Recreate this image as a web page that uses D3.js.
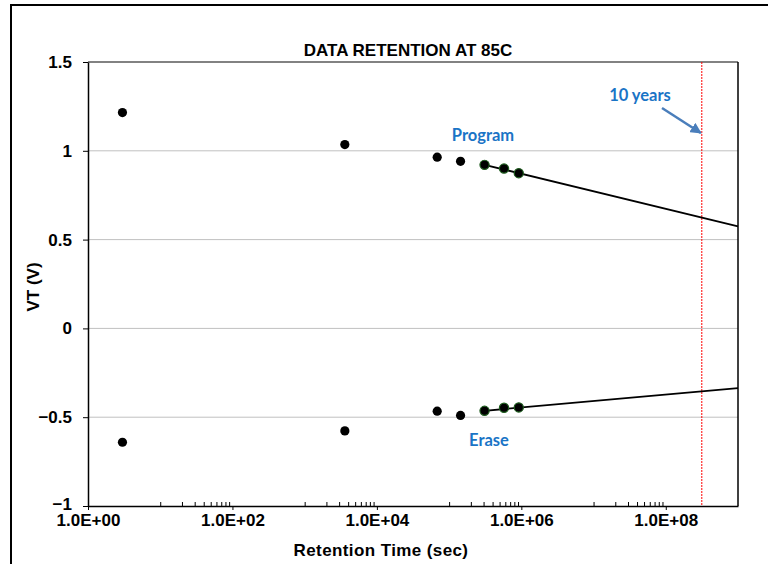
<!DOCTYPE html>
<html>
<head>
<meta charset="utf-8">
<script src="https://cdn.jsdelivr.net/npm/d3@7"></script>
<style>
  body { margin: 0; background: #fff; }
  svg { display: block; }
  .tick text { font-family: "Liberation Sans", Arial, sans-serif; font-weight: 700; font-size: 17px; fill: #000; }
</style>
</head>
<body>
<div id="chart"></div>
<script>
// Retention data (seconds, volts)
const retentionTimes = [3, 3600, 68400, 144000, 309600, 576000, 921600];
const programVT = [1.215, 1.035, 0.964, 0.941, 0.921, 0.900, 0.874];
const eraseVT = [-0.641, -0.577, -0.466, -0.490, -0.464, -0.447, -0.445];
const fitStart = 4; // last three points are used for the trend lines

// Trend line end points
const programTrend = [[309600, 0.921], [1e9, 0.575]];
const eraseTrend = [[309600, -0.464], [1e9, -0.336]];

const tenYears = 3.1536e8;
const xTicks = [1, 1e2, 1e4, 1e6, 1e8];
const yTicks = [-1, -0.5, 0, 0.5, 1, 1.5];

const W = 768, H = 564;
const plot = { left: 88, right: 738, top: 62, bottom: 506 };
const armFont = "'Liberation Sans', Arial, sans-serif";

const svg = d3.select("#chart").append("svg").attr("width", W).attr("height", H);

// outer chart frame (only top and left edges are in view)
svg.append("rect")
    .attr("x", 11).attr("y", 5)
    .attr("width", 800).attr("height", 600)
    .attr("fill", "none").attr("stroke", "#000").attr("stroke-width", 2);

const x = d3.scaleLog().domain([1, 1e9]).range([plot.left, plot.right]);
const y = d3.scaleLinear().domain([-1, 1.5]).range([plot.bottom, plot.top]);

// gridlines
svg.append("g")
    .selectAll("line")
    .data(yTicks.filter(v => v > -1 && v < 1.5))
    .join("line")
    .attr("x1", plot.left).attr("x2", plot.right)
    .attr("y1", d => y(d)).attr("y2", d => y(d))
    .attr("stroke", "#c0c0c0").attr("stroke-width", 1);

// plot border: top and right
svg.append("line")
    .attr("x1", plot.left).attr("x2", plot.right)
    .attr("y1", plot.top).attr("y2", plot.top)
    .attr("stroke", "#595959").attr("stroke-width", 1.5);
svg.append("line")
    .attr("x1", plot.right).attr("x2", plot.right)
    .attr("y1", plot.top).attr("y2", plot.bottom)
    .attr("stroke", "#000").attr("stroke-width", 1.5);

// 10 years marker
svg.append("line")
    .attr("x1", x(tenYears)).attr("x2", x(tenYears))
    .attr("y1", plot.top).attr("y2", plot.bottom)
    .attr("stroke", "#ff0000").attr("stroke-width", 1)
    .attr("stroke-dasharray", "2,1");

// minor ticks, inside, at k*10^odd
const minorTicks = [];
[1, 3, 5, 7].forEach(e => {
    for (let k = 1; k <= 9; k++) minorTicks.push(k * Math.pow(10, e));
});

const fmtSci = d => {
    const e = Math.round(Math.log10(d));
    return "1.0E+" + String(e).padStart(2, "0");
};

const xAxis = svg.append("g")
    .attr("transform", `translate(0,${plot.bottom})`)
    .call(d3.axisBottom(x).tickValues(xTicks).tickFormat(fmtSci).tickSize(4).tickSizeOuter(0).tickPadding(4));
xAxis.select(".domain").attr("stroke", "#000").attr("stroke-width", 1.5);
xAxis.selectAll(".tick line").attr("stroke", "#000");

svg.append("g")
    .attr("transform", `translate(0,${plot.bottom})`)
    .call(d3.axisTop(x).tickValues(minorTicks).tickFormat("").tickSize(4).tickSizeOuter(0))
    .call(g => g.select(".domain").remove())
    .selectAll(".tick line").attr("stroke", "#000");

const yAxis = svg.append("g")
    .attr("transform", `translate(${plot.left},0)`)
    .call(d3.axisLeft(y).tickValues(yTicks).tickFormat(d3.format("")).tickSize(5).tickSizeOuter(0).tickPadding(11));
yAxis.select(".domain").attr("stroke", "#000").attr("stroke-width", 1.5);
yAxis.selectAll(".tick line").attr("stroke", "#000");
// lift the bottom label a touch so it clears 1.0E+00
yAxis.selectAll(".tick text").filter(d => d === -1).attr("dy", "0.2em");

// trend lines
const line = d3.line().x(d => x(d[0])).y(d => y(d[1]));
[programTrend, eraseTrend].forEach(t => {
    svg.append("path").attr("d", line(t))
        .attr("fill", "none").attr("stroke", "#000").attr("stroke-width", 1.8);
});

// points
[programVT, eraseVT].forEach(series => {
    svg.append("g")
        .selectAll("circle")
        .data(series.map((v, i) => ({ t: retentionTimes[i], v, fit: i >= fitStart })))
        .join("circle")
        .attr("cx", d => x(d.t))
        .attr("cy", d => y(d.v))
        .attr("r", 4.6)
        .attr("fill", "#000")
        .attr("stroke", d => d.fit ? "#1d5c1d" : "none")
        .attr("stroke-width", 1.2);
});

// titles
svg.append("text")
    .attr("x", 408).attr("y", 56)
    .attr("text-anchor", "middle")
    .style("font-family", armFont)
    .style("font-weight", "700").style("font-size", "17px")
    .text("DATA RETENTION AT 85C");

svg.append("text")
    .attr("x", 381).attr("y", 556)
    .attr("text-anchor", "middle")
    .style("font-family", armFont)
    .style("font-weight", "700").style("font-size", "17px")
    .style("letter-spacing", "0.4px")
    .text("Retention Time (sec)");

svg.append("text")
    .attr("transform", "translate(39,287) rotate(-90)")
    .attr("text-anchor", "middle")
    .style("font-family", armFont)
    .style("font-weight", "700").style("font-size", "17px")
    .text("VT (V)");

// annotations
const blue = "#1a74c6";
const note = (tx, ty, label) => svg.append("text")
    .attr("x", tx).attr("y", ty)
    .attr("text-anchor", "middle")
    .style("font-family", "Lato, 'Open Sans', sans-serif")
    .style("font-weight", "700").style("font-size", "16.5px")
    .attr("fill", blue)
    .text(label);

note(483, 141, "Program");
note(489, 446, "Erase");
note(640, 101, "10 years");

svg.append("defs").append("marker")
    .attr("id", "arrow")
    .attr("viewBox", "0 0 10 10")
    .attr("refX", 9).attr("refY", 5)
    .attr("markerWidth", 4.5).attr("markerHeight", 4.5)
    .attr("orient", "auto")
    .append("path").attr("d", "M0,0 L10,5 L0,10 z").attr("fill", "#4a7ebb");

svg.append("line")
    .attr("x1", 662).attr("y1", 108)
    .attr("x2", x(tenYears) - 1).attr("y2", 133)
    .attr("stroke", "#4a7ebb").attr("stroke-width", 2.5)
    .attr("marker-end", "url(#arrow)");
</script>
</body>
</html>
